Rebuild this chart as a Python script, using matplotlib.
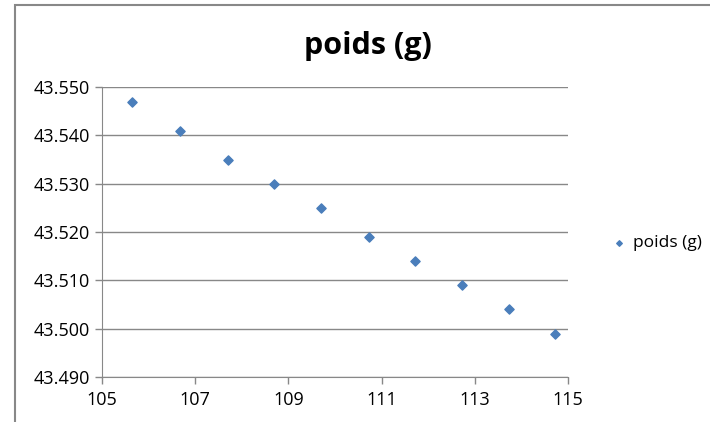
import matplotlib.pyplot as plt
from matplotlib.patches import Rectangle

# données
temp = [105.65, 106.68, 107.7, 108.7, 109.7, 110.72, 111.72, 112.72, 113.73, 114.73]
poids = [43.547, 43.541, 43.535, 43.530, 43.525, 43.519, 43.514, 43.509, 43.504, 43.499]
xticks = [105, 107, 109, 111, 113, 115]
yticks = [43.490, 43.500, 43.510, 43.520, 43.530, 43.540, 43.550]

plt.rcParams['font.family'] = ['Open Sans', 'DejaVu Sans']

fig = plt.figure(figsize=(7.1, 4.22), dpi=100)
# cadre du graphique (style Excel)
fig.patches.append(Rectangle((15 / 710, -0.05), 1.0, 1 - 5 / 422 + 0.05,
                             transform=fig.transFigure, fill=False,
                             edgecolor='#888888', linewidth=1.5))

ax = fig.add_axes([102 / 710, 1 - 377 / 422, 466 / 710, 290 / 422])
ax.scatter(temp, poids, marker='D', s=22, color='#4a7ebb', label='poids (g)', zorder=3)

ax.set_xlim(105, 115)
ax.set_ylim(43.490, 43.550)
ax.set_xticks(xticks)
ax.set_yticks(yticks)
ax.set_yticklabels(['%.3f' % v for v in yticks])
ax.tick_params(labelsize=13, colors='#888888', labelcolor='black', length=5, width=1)
ax.tick_params(axis='x', pad=5)
ax.tick_params(axis='y', pad=4)
ax.grid(axis='y', color='#888888', linewidth=1)
ax.set_axisbelow(True)
for s in ['top', 'right']:
    ax.spines[s].set_visible(False)
for s in ['left', 'bottom']:
    ax.spines[s].set_color('#888888')

fig.text(368 / 710, 1 - 46 / 422, 'poids (g)', ha='center', va='center',
         fontsize=22, fontweight='bold')

fig.legend(loc='center left', bbox_to_anchor=(610 / 710, 1 - 243 / 422), frameon=False,
           fontsize=12.5, handletextpad=0.3, handlelength=1.0, markerscale=0.6,
           borderaxespad=0, borderpad=0)

fig.savefig('out.png', dpi=100)
